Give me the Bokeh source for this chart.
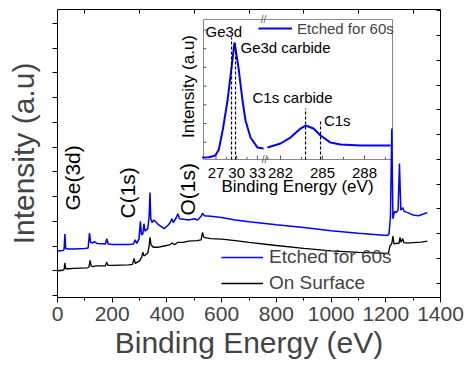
import numpy as np
from bokeh.plotting import figure
from bokeh.models import Range1d, LinearAxis, FixedTicker, Legend, LegendItem
from bokeh.core.properties import value
from bokeh.embed import file_html
from bokeh.resources import INLINE

FONT = "Liberation Sans"
BLUE = "#0000FF"

# ------------------------------------------------------------------ data
x_ticks = [0, 200, 400, 600, 800, 1000, 1200, 1400]
y_ticks = list(range(0, 12))

surface_energy = [0, 20, 24, 27, 30, 40, 60, 110, 115, 119, 123, 130, 140, 175, 180, 184, 200, 260,
                  274, 280, 284, 300, 308, 312, 316, 330, 335, 338, 342, 350, 370, 390, 410, 420,
                  428, 440, 460, 480, 510, 525, 530, 535, 560, 600, 650, 700, 800, 900, 1000, 1100,
                  1205, 1210, 1215, 1222, 1226, 1230, 1240, 1248, 1252, 1256, 1262, 1266, 1280,
                  1300, 1330, 1352]
surface_intensity = [1.00, 1.02, 1.05, 1.32, 1.08, 1.08, 1.10, 1.12, 1.15, 1.42, 1.20, 1.17, 1.20,
                     1.20, 1.35, 1.22, 1.22, 1.24, 1.26, 1.50, 1.30, 1.40, 1.55, 1.75, 1.60, 1.72,
                     2.00, 2.35, 2.05, 1.95, 1.95, 2.00, 2.05, 2.12, 2.05, 2.15, 2.15, 2.20, 2.22,
                     2.25, 2.55, 2.35, 2.30, 2.28, 2.22, 2.15, 2.02, 1.90, 1.80, 1.74, 1.70, 1.72,
                     2.00, 2.10, 2.40, 2.08, 2.12, 2.10, 2.35, 2.15, 2.30, 2.14, 2.12, 2.14, 2.16,
                     2.20]

etched_energy = [0, 20, 24, 27, 30, 40, 60, 100, 112, 117, 121, 128, 135, 145, 175, 180, 185, 200,
                 260, 278, 284, 290, 298, 303, 307, 312, 316, 320, 330, 335, 338, 341, 346, 352,
                 357, 370, 390, 405, 412, 418, 423, 432, 440, 446, 460, 480, 500, 512, 525, 530,
                 537, 560, 600, 650, 700, 800, 900, 1000, 1100, 1205, 1212, 1217, 1222, 1226, 1232,
                 1238, 1245, 1250, 1255, 1262, 1267, 1280, 1300, 1320, 1340, 1352]
etched_intensity = [1.80, 1.82, 1.85, 2.48, 1.90, 1.88, 1.88, 1.90, 1.92, 2.52, 2.15, 2.12, 2.18,
                    2.10, 2.08, 2.30, 2.08, 2.06, 2.06, 2.08, 2.25, 2.10, 2.30, 3.00, 2.45, 2.50,
                    2.90, 2.60, 2.70, 3.20, 4.16, 3.10, 2.95, 3.05, 3.00, 2.85, 2.70, 2.85, 2.95,
                    3.10, 2.95, 3.10, 3.30, 3.10, 3.08, 3.05, 3.10, 3.05, 3.20, 3.32, 3.22, 3.20,
                    3.15, 3.05, 2.98, 2.86, 2.75, 2.62, 2.52, 2.42, 2.50, 3.20, 6.75, 3.10, 3.40,
                    3.35, 3.45, 5.33, 3.45, 3.55, 3.40, 3.35, 3.25, 3.22, 3.30, 3.35]

peak_labels = ["Ge(3d)", "C(1s)", "O(1s)"]
peak_label_energy = [55, 256, 475]
peak_label_intensity = [3.43, 3.11, 3.23]

# inset (etched 60 s, broken energy axis)
inset_ge_energy = [25.0, 26.0, 26.9, 27.4, 28.0, 28.67, 29.25, 29.68, 30.26, 30.84, 31.28, 32.0,
                   33.0, 33.9]
inset_ge_intensity = [0.18, 0.20, 0.29, 0.60, 1.70, 3.23, 4.99, 6.33, 4.99, 3.23, 2.16, 1.25,
                      0.72, 0.66]
inset_c_energy = [281.07, 282.0, 282.71, 283.43, 283.79, 284.36, 284.86, 285.57, 286.29, 287.71,
                  289.86]
inset_c_intensity = [0.72, 0.93, 1.25, 1.73, 1.89, 1.73, 1.36, 0.98, 0.88, 0.82, 0.82]
inset_ge_ticks = [27, 30, 33]
inset_c_ticks = [282, 285, 288]
inset_y_ticks = [1, 2, 3, 4, 5, 6, 7]

ge_marker_energy = [29.25, 29.83]
ge_marker_top = [6.6, 6.28]
c_marker_energy = [283.79, 284.86]
c_marker_top = [2.8, 2.16]

ge_notes = ["Ge3d", "Ge3d carbide"]
ge_note_energy = [25.48, 30.55]
ge_note_intensity = [6.92, 6.06]
c_notes = ["C1s carbide", "C1s"]
c_note_energy = [280.0, 285.1]
c_note_intensity = [3.39, 2.16]

# ------------------------------------------------------------------ layout (page pixels)
W, H = 467, 367
FL, FR, FT, FB = 57, 440, 9, 297          # main frame
Y0_PX, Y_PPU = 295, 24.75                 # main y: value 0 at 295px
IL, IR, IT, IB = 203, 392, 19, 159        # inset box
GE_REF, GE_PX, GE_PPU = 27, 215.5, 6.9    # ge segment scale
C_REF, C_PX, C_PPU = 282, 280, 14.0       # c segment scale
IY0_PX, IY_PPU = 160.4, 18.7              # inset y scale


def seg_range(ref, ref_px, ppu):
    start = ref - (ref_px - FL) / ppu
    return Range1d(start, start + (FR - FL) / ppu)


def gx(px):
    return GE_REF + (px - GE_PX) / GE_PPU


def iy(py):
    return (IY0_PX - py) / IY_PPU


y_start = (Y0_PX - FB) / Y_PPU
y_end = y_start + (FB - FT) / Y_PPU

p = figure(width=W, height=H, x_range=Range1d(0, 1400), y_range=Range1d(y_start, y_end),
           output_backend="svg", toolbar_location=None,
           min_border_left=FL, min_border_top=FT,
           min_border_right=W - FR, min_border_bottom=H - FB)
p.grid.visible = False
p.outline_line_color = None
p.background_fill_color = "white"
p.border_fill_color = "white"

p.extra_x_ranges = {"ge": seg_range(GE_REF, GE_PX, GE_PPU), "c": seg_range(C_REF, C_PX, C_PPU)}
p.extra_y_ranges = {"ins": Range1d(iy(FB), iy(FT))}

x_minor = [(a + b) / 2 for a, b in zip(x_ticks[:-1], x_ticks[1:])]
y_minor = [t + 0.5 for t in y_ticks]

# bottom axis
xa = p.xaxis[0]
xa.ticker = FixedTicker(ticks=x_ticks, minor_ticks=x_minor)
xa.axis_label = "Binding Energy (eV)"
xa.axis_label_text_font = FONT
xa.axis_label_text_font_size = "30px"
xa.axis_label_text_font_style = "normal"
xa.axis_label_standoff = 2
xa.major_label_text_font = FONT
xa.major_label_text_font_size = "21px"
xa.major_label_standoff = 4
xa.major_tick_out, xa.major_tick_in = 5, 0
xa.minor_tick_out, xa.minor_tick_in = 3, 0

# left axis (ticks only, no numbers)
ya = p.yaxis[0]
ya.ticker = FixedTicker(ticks=[], minor_ticks=y_ticks)
ya.axis_label = "Intensity (a.u)"
ya.axis_label_text_font = FONT
ya.axis_label_text_font_size = "30px"
ya.axis_label_text_font_style = "normal"
ya.axis_label_standoff = 13
ya.major_label_standoff = 0
ya.major_tick_out, ya.major_tick_in = 0, 0
ya.minor_tick_out, ya.minor_tick_in = 5, 0

# top / right mirror axes (inward ticks only)
top = LinearAxis(ticker=FixedTicker(ticks=[], minor_ticks=x_minor), major_label_standoff=0,
                 major_tick_out=0, major_tick_in=0, minor_tick_out=0, minor_tick_in=4)
p.add_layout(top, "above")
right = LinearAxis(ticker=FixedTicker(ticks=[], minor_ticks=y_minor), major_label_standoff=0,
                   major_tick_out=0, major_tick_in=0, minor_tick_out=0, minor_tick_in=4)
p.add_layout(right, "right")

# ------------------------------------------------------------------ inset background
p.quad(left=[gx(IL)], right=[gx(IR)], bottom=[iy(IB)], top=[iy(IT)],
       x_range_name="ge", y_range_name="ins",
       fill_color="white", line_color="#8a8a8a", line_width=1)

# ------------------------------------------------------------------ main spectra
r_surf = p.line(surface_energy, surface_intensity, line_color="black", line_width=1.3)
r_etch = p.line(etched_energy, etched_intensity, line_color=BLUE, line_width=1.5)

p.text(x=peak_label_energy, y=peak_label_intensity, text=peak_labels, angle=np.pi / 2,
       text_font=value(FONT), text_font_size=value("21px"), text_align="left",
       text_baseline="middle", text_color="black")

leg = Legend(items=[LegendItem(label="Etched for 60s", renderers=[r_etch]),
                    LegendItem(label="On Surface", renderers=[r_surf])],
             location=(221 - FL, FB - 294), orientation="vertical",
             border_line_color=None, background_fill_alpha=0,
             label_text_font=FONT, label_text_font_size="19px",
             glyph_width=42, glyph_height=20, label_height=20, label_standoff=6,
             spacing=4, padding=0, margin=0)
p.add_layout(leg)

# ------------------------------------------------------------------ inset contents
r_ins = p.line(inset_ge_energy, inset_ge_intensity, x_range_name="ge", y_range_name="ins",
               line_color=BLUE, line_width=2)
p.line(inset_c_energy, inset_c_intensity, x_range_name="c", y_range_name="ins",
       line_color=BLUE, line_width=2)

p.segment(x0=ge_marker_energy, x1=ge_marker_energy, y0=[iy(IB)] * 2, y1=ge_marker_top,
          x_range_name="ge", y_range_name="ins", line_color="black", line_width=1.2,
          line_dash="3 2")
p.segment(x0=c_marker_energy, x1=c_marker_energy, y0=[iy(IB)] * 2, y1=c_marker_top,
          x_range_name="c", y_range_name="ins", line_color="black", line_width=1.2,
          line_dash="3 2")

# inset axis ticks (inward)
p.segment(x0=[gx(IL)] * len(inset_y_ticks), x1=[gx(IL + 3)] * len(inset_y_ticks),
          y0=inset_y_ticks, y1=inset_y_ticks, x_range_name="ge", y_range_name="ins",
          line_color="#555555", line_width=1)
ge_minor = [t + 1.5 for t in inset_ge_ticks]
c_minor = [t + 1.5 for t in inset_c_ticks]
for ticks, minor, rn in ((inset_ge_ticks, ge_minor, "ge"), (inset_c_ticks, c_minor, "c")):
    p.segment(x0=ticks, x1=ticks, y0=[iy(IB)] * len(ticks), y1=[iy(IB - 4)] * len(ticks),
              x_range_name=rn, y_range_name="ins", line_color="#555555", line_width=1)
    p.segment(x0=minor, x1=minor, y0=[iy(IB)] * len(minor), y1=[iy(IB - 2.5)] * len(minor),
              x_range_name=rn, y_range_name="ins", line_color="#555555", line_width=1)
    p.text(x=ticks, y=[iy(172)] * len(ticks), text=[str(t) for t in ticks],
           x_range_name=rn, y_range_name="ins", text_font=value(FONT),
           text_font_size=value("15px"), text_align="center", text_baseline="middle")

# axis break marks
p.text(x=[gx(263), gx(264)], y=[iy(IT), iy(IB)], text=["//", "//"], x_range_name="ge",
       y_range_name="ins", text_font=value(FONT), text_font_size=value("10px"),
       text_align="center", text_baseline="middle", text_color="#555555")

# inset axis titles
p.text(x=[gx(297)], y=[iy(186)], text=["Binding Energy (eV)"], x_range_name="ge",
       y_range_name="ins", text_font=value(FONT), text_font_size=value("17px"),
       text_align="center", text_baseline="middle")
p.text(x=[gx(188)], y=[iy(86)], text=["Intensity (a.u)"], angle=np.pi / 2, x_range_name="ge",
       y_range_name="ins", text_font=value(FONT), text_font_size=value("17px"),
       text_align="center", text_baseline="middle")

# inset annotations
p.text(x=ge_note_energy, y=ge_note_intensity, text=ge_notes, x_range_name="ge",
       y_range_name="ins", text_font=value(FONT), text_font_size=value("15px"),
       text_align="left", text_baseline="middle")
p.text(x=c_note_energy, y=c_note_intensity, text=c_notes, x_range_name="c",
       y_range_name="ins", text_font=value(FONT), text_font_size=value("15px"),
       text_align="left", text_baseline="middle")

leg2 = Legend(items=[LegendItem(label="Etched for 60s", renderers=[r_ins])],
              location=(258 - FL, FB - 38), orientation="vertical",
              border_line_color=None, background_fill_alpha=0,
              label_text_font=FONT, label_text_font_size="15px",
              glyph_width=34, glyph_height=20, label_height=20, label_standoff=5,
              spacing=0, padding=0, margin=0)
p.add_layout(leg2)

open("out.html", "w").write(file_html(p, INLINE))
